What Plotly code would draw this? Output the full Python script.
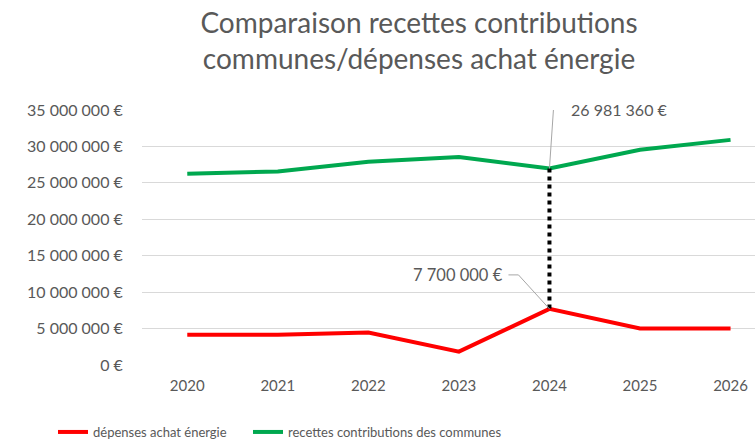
import plotly.graph_objects as go

years = ["2020", "2021", "2022", "2023", "2024", "2025", "2026"]
depenses = [4150000, 4150000, 4450000, 1830000, 7700000, 5000000, 5000000]
recettes = [26240000, 26560000, 27900000, 28540000, 26981360, 29540000, 30900000]
tick_vals = [0, 5000000, 10000000, 15000000, 20000000, 25000000, 30000000, 35000000]

GREY = "#595959"
FONT = "Lato"
RED = "#FF0000"
GREEN = "#00A84F"
LEAD = "#A6A6A6"

def eur(v):
    return f"{v:,.0f}".replace(",", " ") + " €"

# layout geometry (used to convert pixel offsets of leader lines)
W, H = 755, 444
ML, MR, MT, MB = 142, 0, 110, 79
XR = [-0.5, 6.27]
YR = [0, 35000000]
px_x = (XR[1] - XR[0]) / (W - ML - MR)
px_y = (YR[1] - YR[0]) / (H - MT - MB)

fig = go.Figure()
fig.add_trace(go.Scatter(x=years, y=depenses, mode="lines", name="dépenses achat énergie",
                         line=dict(color=RED, width=4), legend="legend"))
fig.add_trace(go.Scatter(x=years, y=recettes, mode="lines", name="recettes contributions des communes",
                         line=dict(color=GREEN, width=4), legend="legend2"))
hi = 4
fig.add_trace(go.Scatter(x=[years[hi], years[hi]], y=[recettes[hi], depenses[hi]], mode="lines",
                         showlegend=False, line=dict(color="black", width=4, dash="dot")))

def leader(idx, val, pts):
    prev = (idx, val)
    for dx, dy in pts:
        cur = (idx + dx * px_x, val + dy * px_y)
        fig.add_shape(type="line", xref="x", yref="y", x0=prev[0], y0=prev[1], x1=cur[0], y1=cur[1],
                      line=dict(color=LEAD, width=1))
        prev = cur

leader(hi, recettes[hi], [(4, 59), (15, 59)])
leader(hi, depenses[hi], [(-31, 34), (-41, 34)])

fig.add_annotation(x=hi, y=recettes[hi], text=eur(recettes[hi]), showarrow=False,
                   xanchor="left", yanchor="middle", xshift=20, yshift=59,
                   font=dict(family=FONT, size=16, color=GREY))
fig.add_annotation(x=hi, y=depenses[hi], text=eur(depenses[hi]), showarrow=False,
                   xanchor="right", yanchor="middle", xshift=-44, yshift=34,
                   font=dict(family=FONT, size=16.5, color=GREY))

leg_common = dict(orientation="h", xref="container", yref="container", y=1 - 432 / 444,
                  xanchor="left", yanchor="middle", font=dict(family=FONT, size=13, color=GREY),
                  itemwidth=30, bgcolor="rgba(0,0,0,0)")

fig.update_layout(
    width=W, height=H,
    margin=dict(l=ML, r=MR, t=MT, b=MB),
    paper_bgcolor="white", plot_bgcolor="white",
    font=dict(family=FONT, color=GREY, size=14),
    title=dict(text="Comparaison recettes contributions<br>communes/dépenses achat énergie",
               x=0.555, xref="container", xanchor="center",
               y=1 - 33 / 444, yref="container", yanchor="middle",
               font=dict(family=FONT, size=28, color=GREY)),
    xaxis=dict(type="category", range=XR, showgrid=False, showline=False,
               ticks="outside", tickcolor="white", ticklen=7,
               tickfont=dict(size=15, color=GREY)),
    yaxis=dict(range=YR, tickvals=tick_vals, ticktext=[eur(v) for v in tick_vals],
               showgrid=True, gridcolor="#D9D9D9", gridwidth=1, zeroline=False,
               tickfont=dict(size=16, color=GREY), ticks="outside", tickcolor="white", ticklen=15),
    legend=dict(x=53 / 755, **leg_common),
    legend2=dict(x=248 / 755, **leg_common),
    showlegend=True,
)
fig.write_html("out.html", config={"displayModeBar": False},
               post_script="document.body.style.margin='0';")
